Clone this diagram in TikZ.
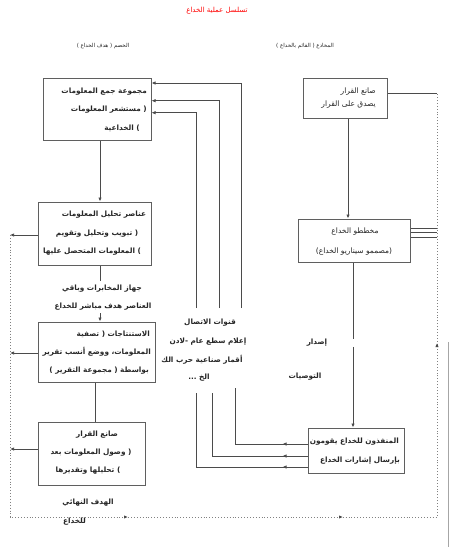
\documentclass[tikz,border=0pt]{standalone}
\usepackage{fontspec}
\usetikzlibrary{arrows.meta,decorations.markings}
\TeXXeTstate=1
\newfontfamily\arabicfont[Script=Arabic]{DejaVu Sans}
\newcommand\artx[1]{{\arabicfont\beginR #1\endR}}
\definecolor{lnc}{RGB}{75,75,75}
\definecolor{bxc}{RGB}{95,95,95}
\begin{document}
\begin{tikzpicture}[x=1pt,y=-1pt,
  box/.style={draw=bxc,line width=1pt,inner sep=0pt},
  txt/.style={inner sep=0pt,font=\fontsize{7.3}{8}\selectfont\bfseries,text=black!85},
  txtr/.style={inner sep=0pt,font=\fontsize{7.5}{8}\selectfont,text=black!85},
  txts/.style={inner sep=0pt,font=\fontsize{5.5}{6}\selectfont,text=black!85},
  ln/.style={draw=lnc,line width=0.75pt},
  arr/.style={ln,-{Latex[length=4pt,width=3.4pt]}},
  dotln/.style={draw=lnc!70,line width=0.9pt,dotted},
  midl/.style={postaction={decorate},decoration={markings,mark=at position 25pt with {\arrow{Latex[length=4pt,width=3.4pt]}}}}
]
\useasboundingbox[fill=white] (0,0) rectangle (450,547);

% boxes
\node[box,minimum width=108pt,minimum height=62pt] (b1) at (97,109) {};
\node[box,minimum width=113pt,minimum height=63pt] (b2) at (94.5,233.5) {};
\node[box,minimum width=117pt,minimum height=60pt] (b3) at (96.5,352) {};
\node[box,minimum width=107pt,minimum height=63pt] (b4) at (91.5,453.5) {};
\node[box,minimum width=84pt,minimum height=40pt] (r1) at (345,98) {};
\node[box,minimum width=112pt,minimum height=43pt] (r2) at (354,240.5) {};
\node[box,minimum width=96pt,minimum height=45pt] (r3) at (356,450.5) {};

% title and headers
\node[txtr,text=red,font=\fontsize{7}{8}\selectfont] (title) at (217,11) {\artx{تسلسل عملية الخداع}};
\node[txts] (hl) at (103,46) {\artx{الخصم ( هدف الخداع )}};
\node[txts] (hr) at (305,46) {\artx{المخادع ( القائم بالخداع )}};

% box texts
\node[txt,anchor=east] (t11) at (147,92) {\artx{مجموعة جمع المعلومات}};
\node[txt,anchor=east] (t12) at (147,110) {\artx{( مستشعر المعلومات}};
\node[txt,anchor=east] (t13) at (140,128) {\artx{) الخداعية}};

\node[txt] (t21) at (104,215) {\artx{عناصر تحليل المعلومات}};
\node[txt] (t22) at (97,234) {\artx{( تبويب وتحليل وتقويم}};
\node[txt] (t23) at (92,252) {\artx{) المعلومات المتحصل عليها}};

\node[txt] (m1) at (102,289) {\artx{جهاز المخابرات وباقي}};
\node[txt] (m2) at (103,307) {\artx{العناصر هدف مباشر للخداع}};

\node[txt,anchor=east] (t31) at (150,334) {\artx{الاستنتاجات ( تصفية}};
\node[txt,anchor=east] (t32) at (151,352) {\artx{المعلومات، ووضع أنسب تقرير}};
\node[txt,anchor=east] (t33) at (149,371) {\artx{بواسطة ( مجموعة التقرير )}};

\node[txt] (t41) at (97,435) {\artx{صانع القرار}};
\node[txt] (t42) at (91,453) {\artx{( وصول المعلومات بعد}};
\node[txt] (t43) at (88,471) {\artx{) تحليلها وتقديرها}};

\node[txt] (g1) at (88,503) {\artx{الهدف النهائي}};
\node[txt,anchor=west] (g2) at (63,522) {\artx{للخداع}};

\node[txt] (c1) at (210,323) {\artx{قنوات الاتصال}};
\node[txt] (c2) at (208,342) {\artx{إعلام سطع عام -لادن}};
\node[txt] (c3) at (202,360) {\artx{أقمار صناعية حرب الك}};
\node[txt] (c4) at (199,378) {\artx{الخ ...}};

\node[txtr,anchor=east] (s1) at (376,92) {\artx{صانع القرار}};
\node[txtr,anchor=east] (s2) at (376,105) {\artx{يصدق على القرار}};

\node[txtr] (p1) at (355,232) {\artx{مخططو الخداع}};
\node[txtr] (p2) at (354,252) {\artx{(مصممو سيناريو الخداع)}};

\node[txt,anchor=east] (e1) at (399,442) {\artx{المنفذون للخداع يقومون}};
\node[txt,anchor=east] (e2) at (400,461) {\artx{بإرسال إشارات الخداع}};

\node[txt] (i1) at (317,343) {\artx{إصدار}};
\node[txt] (i2) at (305,377) {\artx{التوصيات}};

% helper coordinates
\coordinate (xa) at (100,0);
\coordinate (xb) at (95,0);
\coordinate (xd) at (10,0);
\coordinate (xr) at (437,0);
\coordinate (m1top) at (100,281);
\coordinate (m2bot) at (100,313);

% left chain
\draw[arr] (b1.south -| xa) -- (b2.north -| xa);
\draw[ln] (b2.south -| xa) -- (m1top);
\draw[arr] (m2bot) -- (b3.north -| xa);
\draw[ln] (b3.south -| xb) -- (b4.north -| xb);

% arrows to dotted line
\draw[arr] ([yshift=-1.5pt]b2.west) -- ([yshift=-1.5pt]b2.west -| xd);
\draw[arr] ([yshift=-1pt]b3.west) -- ([yshift=-1pt]b3.west -| xd);
\draw[arr] ([yshift=4.5pt]b4.west) -- ([yshift=4.5pt]b4.west -| xd);

% dotted loop
\coordinate (d0) at (10,235);
\coordinate (d1) at (10,517);
\coordinate (d2) at (437,517);
\coordinate (d3) at (437,93);
\draw[dotln,postaction={decorate},decoration={markings,
  mark=at position 400pt with {\arrow[lnc,solid]{Latex[length=4pt,width=3.4pt]}},
  mark=at position 615pt with {\arrow[lnc,solid]{Latex[length=4pt,width=3.4pt]}},
  mark=at position 883pt with {\arrow[lnc,solid]{Latex[length=4pt,width=3.4pt]}}}]
  (d0) -- (d1) -- (d2) -- (d3);

% right chain
\draw[ln] ([yshift=5pt]r1.east) -- ([yshift=5pt]r1.east -| xr);
\draw[ln] ([yshift=12.5pt]r2.east) -- ([yshift=12.5pt]r2.east -| xr);
\draw[ln] ([yshift=8.5pt]r2.east) -- ([yshift=8.5pt]r2.east -| xr);
\draw[ln] ([yshift=3.5pt]r2.east) -- ([yshift=3.5pt]r2.east -| xr);
\draw[arr] ([xshift=3pt]r1.south) -- ([xshift=3pt]r1.south |- r2.north);
\draw[ln] ([xshift=-1pt]r2.south) -- ([xshift=-1pt]r2.south |- i1.north);
\draw[arr] ([xshift=-1pt]r2.south |- i1.south) -- ([xshift=-1pt]r2.south |- r3.north);

% executors to collectors (lower parts)
\coordinate (la) at (235,388);
\coordinate (lb) at (212,393);
\coordinate (lc) at (196,393);
\draw[ln,midl] ([yshift=6.5pt]r3.west) -- ([yshift=6.5pt]r3.west -| la) -- (la);
\draw[ln,midl] ([yshift=-5.5pt]r3.west) -- ([yshift=-5.5pt]r3.west -| lb) -- (lb);
\draw[ln,midl] ([yshift=-16.5pt]r3.west) -- ([yshift=-16.5pt]r3.west -| lc) -- (lc);

% upper parts into b1
\coordinate (ua) at (241,308);
\coordinate (ub) at (219,308);
\coordinate (uc) at (196,308);
\draw[arr] (ua) -- (ua |- 0,83) -- (b1.east |- 0,83);
\draw[arr] (ub) -- (ub |- 0,100.7) -- (b1.east |- 0,100.7);
\draw[arr] (uc) -- (uc |- 0,112.7) -- (b1.east |- 0,112.7);

% stray right line
\coordinate (sr0) at (448,342);
\coordinate (sr1) at (448,547);
\draw[ln,draw=gray!70] (sr0) -- (sr1);
\end{tikzpicture}
\end{document}
